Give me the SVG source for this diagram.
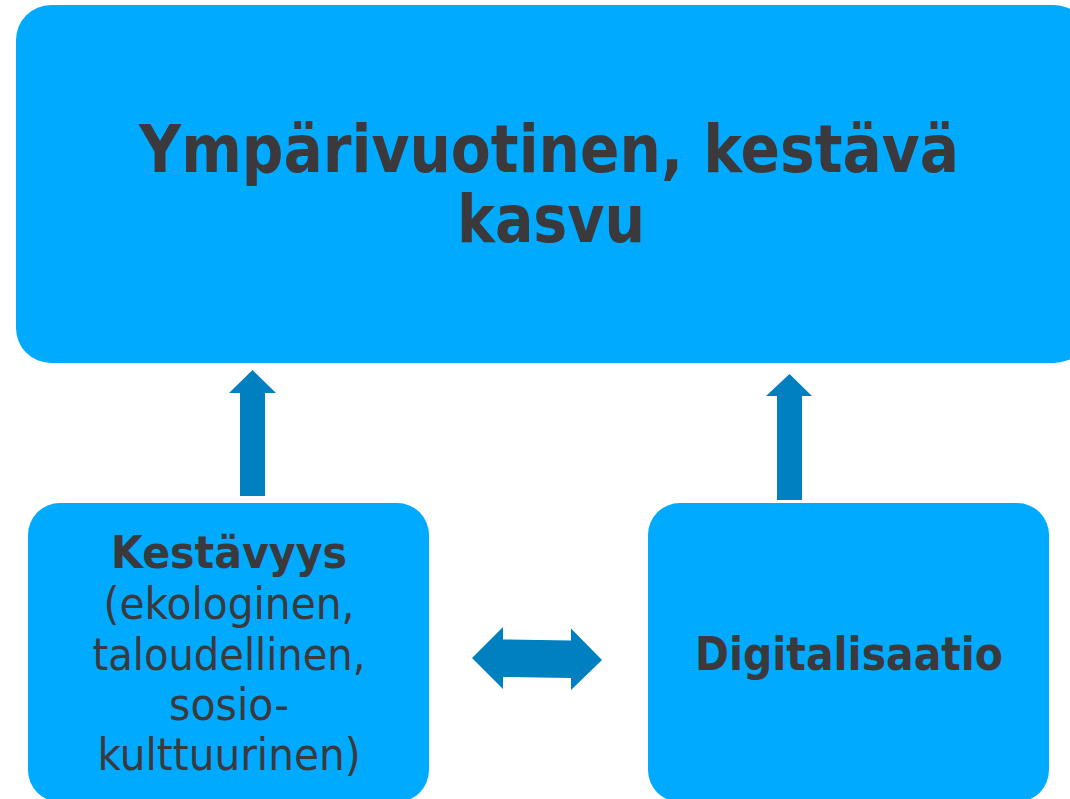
<svg xmlns="http://www.w3.org/2000/svg" width="1070" height="799" viewBox="0 0 1070 799">
<style>
.box{fill:#00AAFF}
.arr{fill:#0080C0}
.t{font-family:"DejaVu Sans","Liberation Sans",sans-serif;fill:#3B393B;text-anchor:middle}
.b{font-weight:bold}
</style>
<rect width="1070" height="799" fill="#ffffff"/>
<g id="node-top">
<rect class="box" x="16" y="5" width="1073" height="358" rx="35" ry="35"/>
<text class="t b" x="549" y="172" font-size="66" textLength="820" lengthAdjust="spacingAndGlyphs">Ympärivuotinen, kestävä</text>
<text class="t b" x="551" y="242" font-size="66" textLength="188" lengthAdjust="spacingAndGlyphs">kasvu</text>
</g>
<g id="node-kestavyys">
<rect class="box" x="28" y="503" width="401" height="299" rx="32" ry="32"/>
<text class="t b" x="229" y="568" font-size="45" textLength="236" lengthAdjust="spacingAndGlyphs">Kestävyys</text>
<text class="t" x="229" y="619" font-size="45" textLength="251" lengthAdjust="spacingAndGlyphs">(ekologinen,</text>
<text class="t" x="229" y="670" font-size="45" textLength="273" lengthAdjust="spacingAndGlyphs">taloudellinen,</text>
<text class="t" x="229" y="720" font-size="45" textLength="120" lengthAdjust="spacingAndGlyphs">sosio-</text>
<text class="t" x="229" y="770" font-size="45" textLength="263" lengthAdjust="spacingAndGlyphs">kulttuurinen)</text>
</g>
<g id="node-digitalisaatio">
<rect class="box" x="648" y="503" width="401" height="299" rx="32" ry="32"/>
<text class="t b" x="849" y="670" font-size="47" textLength="308" lengthAdjust="spacingAndGlyphs">Digitalisaatio</text>
</g>
<g id="connectors">
<polygon class="arr" points="240,496 265,496 265,393 276,393 252.5,370 229,393 240,393"/>
<polygon class="arr" points="777,500 802,500 802,396 812,396 789.5,374 766,396 777,396"/>
<polygon class="arr" points="472,658 503,627 503,639.5 571,640.5 571,628.5 602,660 571,690 571,678 503,677 503,689"/>
</g>
</svg>
